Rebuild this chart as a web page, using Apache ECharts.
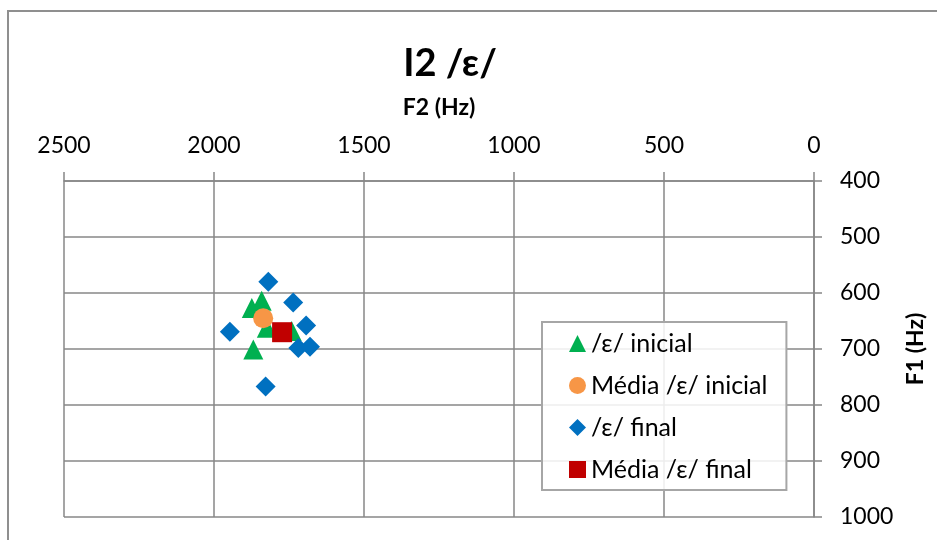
<!DOCTYPE html>
<html>
<head>
<meta charset="utf-8">
<script src="https://cdn.jsdelivr.net/npm/echarts@6/dist/echarts.min.js"></script>
<style>
  html, body { margin: 0; padding: 0; background: #fff; }
  #chart { width: 937px; height: 540px; }
</style>
</head>
<body>
<div id="chart"></div>
<script>
// Formant measurements for /ε/ (speaker I2): [F2 Hz, F1 Hz]
const seriesNames = ['/ε/ inicial', 'Média /ε/ inicial', '/ε/ final', 'Média /ε/ final'];
const inicial = [[1874, 627], [1841, 614], [1824, 662], [1741, 668], [1869, 701]];
const mediaInicial = [[1836, 645]];
const final = [[1819, 580], [1736, 617], [1947, 669], [1693, 658], [1719, 698], [1680, 696], [1828, 767]];
const mediaFinal = [[1773, 670]];

const f2Range = [0, 2500, 500];
const f1Range = [400, 1000, 100];

const FONT = 'Lato';
const gridColor = '#878787';
const plainNumber = v => String(v);

const chart = echarts.init(document.getElementById('chart'), null, { renderer: 'canvas' });

const option = {
  backgroundColor: '#ffffff',
  animation: false,
  textStyle: { fontFamily: FONT },
  graphic: [{
    type: 'rect',
    shape: { x: 8, y: 11, width: 1000, height: 1000 },
    style: { fill: 'none', stroke: '#8f8f8f', lineWidth: 2 },
    z: -1
  }],
  title: {
    text: 'I2 /ε/',
    left: 445,
    top: 40,
    textAlign: 'center',
    textStyle: { fontFamily: FONT, fontWeight: 'bold', fontSize: 38, color: '#000' }
  },
  grid: { left: 64, right: 123, top: 181, bottom: 23 },
  xAxis: {
    type: 'value',
    position: 'top',
    inverse: true,
    min: f2Range[0], max: f2Range[1], interval: f2Range[2],
    name: 'F2 (Hz)',
    nameLocation: 'middle',
    nameGap: 62,
    nameTextStyle: { fontFamily: FONT, fontWeight: 'bold', fontSize: 23, color: '#000' },
    axisLine: { show: true, lineStyle: { color: gridColor, width: 1.5 } },
    axisTick: { show: true, inside: false, length: 9, lineStyle: { color: gridColor, width: 1.5 } },
    axisLabel: { fontFamily: FONT, fontSize: 23, color: '#000', margin: 24, formatter: plainNumber },
    splitLine: { show: true, lineStyle: { color: gridColor, width: 1.5 } }
  },
  yAxis: {
    type: 'value',
    position: 'right',
    inverse: true,
    min: f1Range[0], max: f1Range[1], interval: f1Range[2],
    name: 'F1 (Hz)',
    nameLocation: 'middle',
    nameGap: 90,
    nameRotate: 90,
    nameTextStyle: { fontFamily: FONT, fontWeight: 'bold', fontSize: 23, color: '#000' },
    axisLine: { show: true, lineStyle: { color: gridColor, width: 1.5 } },
    axisTick: { show: true, inside: false, length: 8, lineStyle: { color: gridColor, width: 1.5 } },
    axisLabel: { fontFamily: FONT, fontSize: 23, color: '#000', margin: 26, formatter: plainNumber },
    splitLine: { show: true, lineStyle: { color: gridColor, width: 1.5 } }
  },
  legend: {
    orient: 'vertical',
    left: 542,
    top: 322,
    padding: [9, 19, 8, 27],
    itemWidth: 17,
    itemHeight: 17,
    itemGap: 17,
    backgroundColor: 'rgba(255,255,255,0.85)',
    borderColor: '#a6a6a6',
    borderWidth: 2,
    borderRadius: 0,
    textStyle: { fontFamily: FONT, fontSize: 25, color: '#000', lineHeight: 24 },
    data: seriesNames
  },
  series: [
    {
      name: seriesNames[0], type: 'scatter', data: inicial,
      symbol: 'triangle', symbolSize: 20,
      itemStyle: { color: '#00b050', opacity: 1 }
    },
    {
      name: seriesNames[1], type: 'scatter', data: mediaInicial,
      symbol: 'circle', symbolSize: 20,
      itemStyle: { color: '#f79646', opacity: 1 }
    },
    {
      name: seriesNames[2], type: 'scatter', data: final,
      symbol: 'diamond', symbolSize: 20,
      itemStyle: { color: '#0070c0', opacity: 1 }
    },
    {
      name: seriesNames[3], type: 'scatter', data: mediaFinal,
      symbol: 'rect', symbolSize: 20,
      itemStyle: { color: '#c00000', opacity: 1 }
    }
  ]
};

chart.setOption(option);
</script>
</body>
</html>
